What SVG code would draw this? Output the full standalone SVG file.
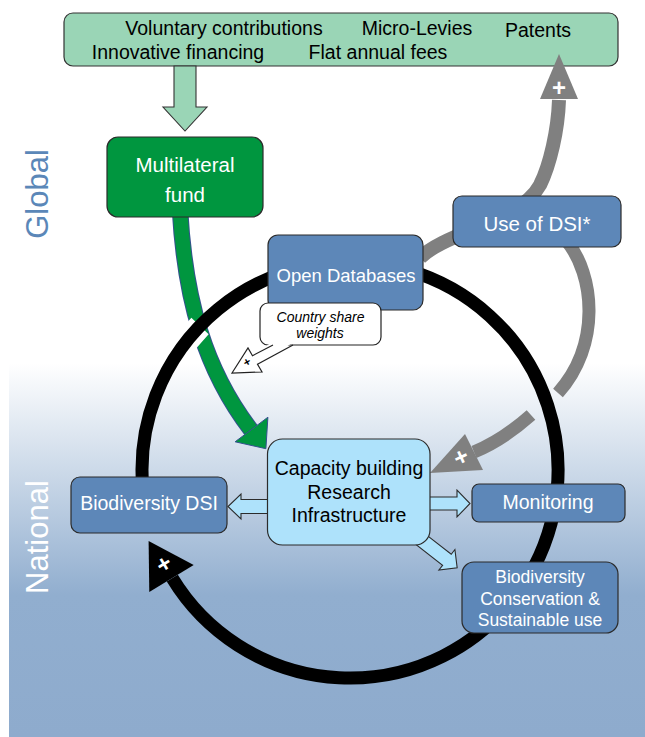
<svg xmlns="http://www.w3.org/2000/svg" width="645" height="737" viewBox="0 0 645 737">
<defs>
<linearGradient id="bg" x1="0" y1="0" x2="0" y2="1">
<stop offset="0" stop-color="#ffffff"/>
<stop offset="0.62" stop-color="#91aecf"/>
<stop offset="1" stop-color="#8eabcd"/>
</linearGradient>
<style>
text{font-family:"Liberation Sans",Arial,sans-serif;}
.node{fill:#5d87b8;stroke:#2b2b2b;stroke-width:1.2;}
.wt{fill:#ffffff;text-anchor:middle;}
.bt{fill:#000000;text-anchor:middle;}
.lb{fill:#aee2fb;stroke:#2b2b2b;stroke-width:1.1;stroke-linejoin:miter;}
.gray{fill:none;stroke:#808080;stroke-width:13;}
.plus{fill:#ffffff;font-weight:bold;font-size:24px;text-anchor:middle;}
</style>
</defs>
<rect width="645" height="737" fill="#ffffff"/>
<rect x="9" y="363" width="636" height="374" fill="url(#bg)"/>
<text transform="translate(48,194) rotate(-90)" text-anchor="middle" font-size="31" fill="#5b87b8">Global</text>
<text transform="translate(48,537) rotate(-90)" text-anchor="middle" font-size="31" fill="#ffffff">National</text>

<g id="sources">
<rect x="64" y="13" width="554" height="53" rx="9" fill="#9ad5b6" stroke="#333333" stroke-width="1.2"/>
<text class="bt" font-size="19.5" x="224" y="35">Voluntary contributions</text>
<text class="bt" font-size="19.5" x="417" y="35">Micro-Levies</text>
<text class="bt" font-size="19.5" x="538" y="37">Patents</text>
<text class="bt" font-size="19.5" x="178" y="59">Innovative financing</text>
<text class="bt" font-size="19.5" x="378" y="59">Flat annual fees</text>
</g>

<g id="connectors">
<polygon points="174,66 196,66 196,107 207,107 185,131 163,107 174,107" fill="#9ad5b6" stroke="#333333" stroke-width="1.1"/>
<path d="M180 210 C185 300,205 370,251 430" fill="none" stroke="#34508f" stroke-width="16.5"/>
<path d="M180 210 C185 300,205 370,251 430" fill="none" stroke="#00963f" stroke-width="14.5"/>
<polygon points="267.9,417.2 265.9,448.7 235.1,441.8" fill="#00963f" stroke="#34508f" stroke-width="1"/>
<path class="gray" d="M420 258 C445 232,520 222,540 185 C550 165,558 130,559 100" style="stroke-width:14"/>
<polygon points="559,54 578,99 540,99" fill="#808080"/>
<path class="gray" d="M566 240 C595 275,601 345,558 393"/>
<path class="gray" d="M531 415 C513 431,496 443,474 452"/>
<polygon points="430,473 465,434 483,470" fill="#808080"/>
<path d="M 350 470 m -172.5 -116.2 A 208 208 0 0 1 200 326" fill="none" stroke="#ffffff" stroke-width="24"/>
<path d="M142.8 488.1 A208 208 0 1 1 172.3 578.1" fill="none" stroke="#000000" stroke-width="13"/>
<polygon points="148.6,540.9 149.3,592 193.7,565" fill="#000000"/>
<text class="plus" transform="rotate(-31 164 564)" x="164" y="572">+</text>
<text class="plus" x="559" y="96">+</text>
<text class="plus" transform="rotate(-25 461 457)" x="461" y="465">+</text>
<polygon class="lb" points="275,499.5 241,499.5 241,494 228,506.5 241,519 241,513.5 275,513.5"/>
<polygon class="lb" points="422,497 457,497 457,490 470,503.5 457,517 457,510 422,510"/>
<polygon class="lb" transform="translate(428,545) rotate(38)" points="-12,-7 24,-7 24,-13 37,0 24,13 24,7 -12,7"/>
</g>

<g id="multilateral">
<rect x="107" y="137" width="156" height="80" rx="11" fill="#00963f" stroke="#2b2b2b" stroke-width="1.2"/>
<text class="wt" font-size="20.5" x="185" y="172">Multilateral</text>
<text class="wt" font-size="20.5" x="185" y="202">fund</text>
</g>

<g id="open-databases">
<rect class="node" x="268" y="235" width="155" height="75" rx="10"/>
<text class="wt" font-size="18.5" x="346" y="282">Open Databases</text>
</g>

<g id="use-of-dsi">
<rect class="node" x="453" y="196" width="168" height="51" rx="9"/>
<text class="wt" font-size="20.5" x="537" y="231">Use of DSI*</text>
</g>

<g id="country-share">
<rect x="260" y="303" width="121" height="42" rx="8" fill="#ffffff" stroke="#222222" stroke-width="1.2"/>
<path d="M272 342 L252.5 355.7 L248 348 L232 373 L262 372 L257.5 364.3 L294 342 Z" fill="#ffffff"/>
<path d="M273 345 L252.5 355.7 L248 348 L232 373 L262 372 L257.5 364.3 L293 345" fill="none" stroke="#222222" stroke-width="1.2"/>
<text transform="rotate(-30 247 362)" x="247" y="366" font-size="12" font-weight="bold" text-anchor="middle" fill="#000000">+</text>
<text class="bt" font-size="14" font-style="italic" x="320.5" y="322">Country share</text>
<text class="bt" font-size="14" font-style="italic" x="320" y="338">weights</text>
</g>

<g id="biodiversity-dsi">
<rect class="node" x="71" y="477" width="156" height="56" rx="9"/>
<text class="wt" font-size="19.5" x="149" y="510">Biodiversity DSI</text>
</g>

<g id="capacity-building">
<rect x="267.5" y="439" width="162.5" height="106" rx="15" fill="#aee2fb" stroke="#2b2b2b" stroke-width="1.2"/>
<text class="bt" font-size="19.5" x="349" y="475">Capacity building</text>
<text class="bt" font-size="19.5" x="349" y="498.5">Research</text>
<text class="bt" font-size="19.5" x="349" y="522">Infrastructure</text>
</g>

<g id="monitoring">
<rect class="node" x="472" y="484" width="153" height="38" rx="7"/>
<text class="wt" font-size="19.5" x="548" y="509">Monitoring</text>
</g>

<g id="conservation">
<rect class="node" x="462" y="562" width="156" height="71" rx="12"/>
<text class="wt" font-size="17.5" x="540" y="583">Biodiversity</text>
<text class="wt" font-size="17.5" x="540" y="604.5">Conservation &amp;</text>
<text class="wt" font-size="17.5" x="540" y="625.5">Sustainable use</text>
</g>
</svg>
